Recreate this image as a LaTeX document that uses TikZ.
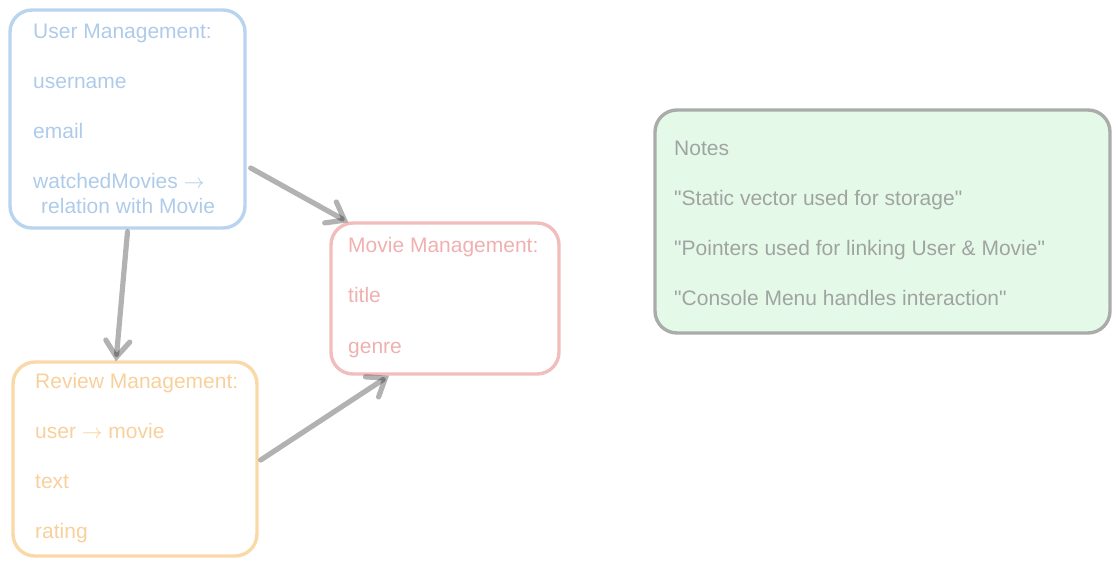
\documentclass[tikz,border=0pt]{standalone}
\usepackage{fontspec}
\setmainfont{Liberation Sans}[Ligatures=TeXOff]
\usetikzlibrary{arrows.meta}
\definecolor{ublue}{HTML}{B8D4EE}
\definecolor{ubluet}{HTML}{AECBEA}
\definecolor{mpink}{HTML}{F2BDBD}
\definecolor{mpinkt}{HTML}{F0B0B0}
\definecolor{rorange}{HTML}{FAD9A8}
\definecolor{roranget}{HTML}{F8D09C}
\definecolor{ngreen}{HTML}{E5F9E9}
\definecolor{ngray}{HTML}{A9ACA9}
\definecolor{ngrayt}{HTML}{A0A4A0}
\newcommand{\rarr}{\ensuremath{\rightarrow}}
\tikzset{
  box/.style={draw, line width=3.4pt, rounded corners=22pt, inner sep=0pt},
  txt/.style={anchor=base west, inner sep=0pt, font=\fontsize{21}{24}\selectfont},
  conn/.style={draw=black, draw opacity=0.3, line width=5.2pt, line cap=round, line join=round,
    -{Straight Barb[length=16pt,width=24pt,line cap=round]}}
}
\begin{document}
\begin{tikzpicture}[x=1pt,y=-1pt]
\useasboundingbox (0,0) rectangle (1118,565);
% boxes
\node[box, draw=ublue, minimum width=235pt, minimum height=218pt] (user) at (127.5,119) {};
\node[box, draw=mpink, minimum width=228pt, minimum height=151pt] (movie) at (445,298.5) {};
\node[box, draw=rorange, minimum width=244pt, minimum height=194pt] (review) at (135,459) {};
\node[box, draw=ngray, fill=ngreen, minimum width=455pt, minimum height=223pt] (notes) at (882.5,221.5) {};
% user text
\node[txt, text=ubluet] (u1) at (33,38) {User Management:};
\node[txt, text=ubluet] (u2) at (33,88) {username};
\node[txt, text=ubluet] (u3) at (33,138) {email};
\node[txt, text=ubluet] (u4) at (33,188) {watchedMovies \rarr};
\node[txt, text=ubluet] (u5) at (41,213) {relation with Movie};
% movie text
\node[txt, text=mpinkt] (m1) at (348,252) {Movie Management:};
\node[txt, text=mpinkt] (m2) at (348,302) {title};
\node[txt, text=mpinkt] (m3) at (348,353) {genre};
% review text
\node[txt, text=roranget] (r1) at (35,388) {Review Management:};
\node[txt, text=roranget] (r2) at (35,438) {user \rarr\ movie};
\node[txt, text=roranget] (r3) at (35,488) {text};
\node[txt, text=roranget] (r4) at (35,538) {rating};
% notes text
\node[txt, text=ngrayt] (n1) at (674,155) {Notes};
\node[txt, text=ngrayt] (n2) at (674,205) {"Static vector used for storage"};
\node[txt, text=ngrayt] (n3) at (674,255) {"Pointers used for linking User \& Movie"};
\node[txt, text=ngrayt] (n4) at (674,305) {"Console Menu handles interaction"};
% connectors
\draw[conn] ([xshift=4pt,yshift=-49pt]user.east) -- ([xshift=19pt,yshift=-1pt]movie.north west);
\draw[conn] ([yshift=-2pt]user.south) -- ([xshift=-19pt,yshift=-1pt]review.north);
\draw[conn] ([xshift=2pt,yshift=-1pt]review.east) -- ([xshift=-56pt]movie.south);
\end{tikzpicture}
\end{document}
